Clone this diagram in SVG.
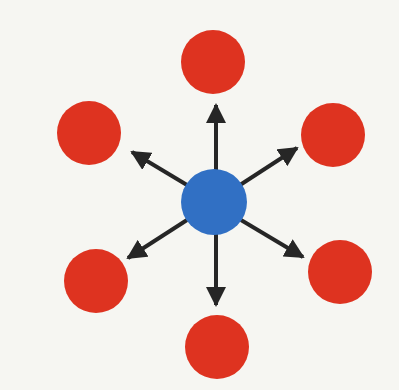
<svg xmlns="http://www.w3.org/2000/svg" width="399" height="390" viewBox="0 0 399 390">
<style>
.red{fill:#de3320}
.blue{fill:#3170c4}
.edge{stroke:#262626;stroke-width:4;fill:none;marker-end:url(#ah)}
</style>
<defs>
<marker id="ah" viewBox="0 0 10 10" refX="9" refY="5" markerWidth="5" markerHeight="5" markerUnits="strokeWidth" orient="auto">
<path d="M0,0 L10,5 L0,10 z" fill="#262626"/>
</marker>
</defs>
<rect width="399" height="390" fill="#f6f6f2"/>
<g id="connectors">
<line class="edge" x1="216" y1="172" x2="216" y2="105"/>
<line class="edge" x1="240" y1="185" x2="297" y2="148"/>
<line class="edge" x1="187" y1="185" x2="132" y2="152"/>
<line class="edge" x1="187" y1="220" x2="128" y2="258"/>
<line class="edge" x1="241" y1="220" x2="303" y2="257"/>
<line class="edge" x1="216" y1="232" x2="216" y2="305"/>
</g>
<g id="center"><circle class="blue" cx="214" cy="202" r="33"/></g>
<g id="top"><circle class="red" cx="213" cy="62" r="32"/></g>
<g id="upper-left"><circle class="red" cx="89" cy="133" r="32"/></g>
<g id="upper-right"><circle class="red" cx="333" cy="135" r="32"/></g>
<g id="lower-left"><circle class="red" cx="96" cy="281" r="32"/></g>
<g id="lower-right"><circle class="red" cx="340" cy="272" r="32"/></g>
<g id="bottom"><circle class="red" cx="217" cy="347" r="32"/></g>
</svg>
